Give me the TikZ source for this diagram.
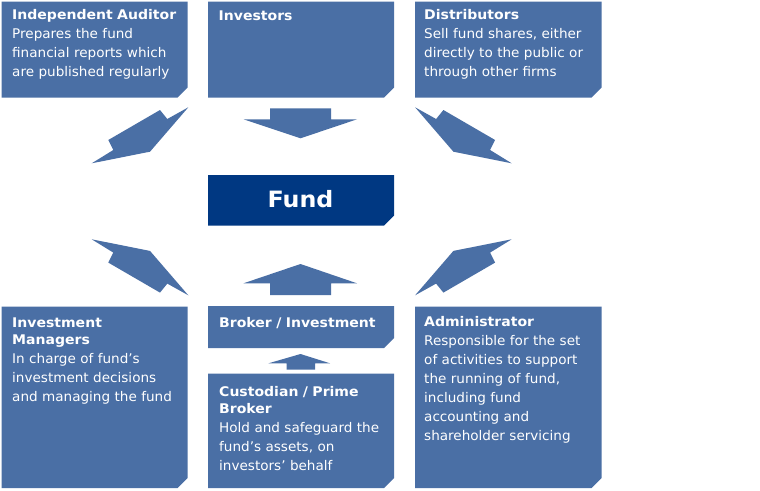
\documentclass[tikz,border=0pt]{standalone}
\usepackage{fontspec}
\setmainfont{DejaVu Sans}[FakeStretch=1.02,BoldFeatures={FakeStretch=1.055}]
\definecolor{boxblue}{RGB}{74,111,165}
\definecolor{fundblue}{RGB}{0,56,130}
\newcommand\chbox[5][boxblue]{\fill[#1] (#2,#3) -- (#4,#3) -- (#4,#5-10) -- (#4-10,#5) -- (#2,#5) -- cycle;}
\begin{document}
\begin{tikzpicture}[x=1pt,y=-1pt,
  lbl/.style={anchor=base west, inner sep=0pt, text=white, align=left, text width=185pt,
    font=\fontsize{13.3}{19}\selectfont},
  fundlbl/.style={anchor=base, inner sep=0pt, text=white, font=\fontsize{22.5}{26}\selectfont\bfseries},
  arr/.style={fill=boxblue}]
\useasboundingbox (0,0) rectangle (760,490);
\fill[white] (0,0) rectangle (760,490);
% boxes
\chbox{1.5}{1.5}{187.5}{97.5}
\chbox{208}{1.5}{394}{97.5}
\chbox{415}{1.5}{601.5}{97.5}
\chbox[fundblue]{208}{175}{394}{225.5}
\chbox{1.5}{306.5}{187.5}{488}
\chbox{208}{306}{394}{348}
\chbox{208}{373.5}{394}{488}
\chbox{415}{306.5}{601.5}{488}
% labels
\node[lbl] (aud) at (12,19.5) {\textbf{Independent Auditor}\\Prepares the fund\\financial reports which\\are published regularly};
\node[lbl] (inv) at (218.5,20) {\textbf{Investors}};
\node[lbl] (dis) at (424,19.5) {\textbf{Distributors}\\Sell fund shares, either\\directly to the public or\\through other firms};
\node[fundlbl] (fund) at (300.5,207.3) {Fund};
\node[lbl] (mgr) at (12,327.3) {\textbf{Investment}\\[-2pt]\textbf{Managers}\\In charge of fund’s\\investment decisions\\and managing the fund};
\node[lbl] (brk) at (219,327.3) {\textbf{Broker / Investment}};
\node[lbl] (cus) at (219,396.7) {\textbf{Custodian / Prime}\\[-2pt]\textbf{Broker}\\Hold and safeguard the\\fund’s assets, on\\investors’ behalf};
\node[lbl] (adm) at (424,326.7) {\textbf{Administrator}\\Responsible for the set\\of activities to support\\the running of fund,\\including fund\\accounting and\\shareholder servicing};
% vertical arrows
\fill[arr] (270,108.3) -- (331,108.3) -- (331,119.3) -- (357,119.3) -- (300.5,138.3) -- (243.5,119.3) -- (270,119.3) -- cycle;
\fill[arr] (300.5,264) -- (357,283.3) -- (331,283.3) -- (331,295) -- (270,295) -- (270,283.3) -- (243.5,283.3) -- cycle;
\fill[arr] (300.5,354) -- (330,363.3) -- (315,363.3) -- (315,369.5) -- (286.5,369.5) -- (286.5,363.3) -- (268.5,363.3) -- cycle;
% diagonal arrows
\fill[arr] (188.3,107.3) -- (150,151.7) -- (91.7,163.3) -- (113.3,150) -- (108.3,140) -- (160,110) -- (167.3,119) -- cycle;
\fill[arr] (415.1,107.3) -- (453.4,151.7) -- (511.7,163.3) -- (490.1,150) -- (495.1,140) -- (443.4,110) -- (436.1,119) -- cycle;
\fill[arr] (188.3,295.3) -- (150,250.9) -- (91.7,239.3) -- (113.3,252.6) -- (108.3,262.6) -- (160,292.6) -- (167.3,283.6) -- cycle;
\fill[arr] (415.1,295.3) -- (453.4,250.9) -- (511.7,239.3) -- (490.1,252.6) -- (495.1,262.6) -- (443.4,292.6) -- (436.1,283.6) -- cycle;
\end{tikzpicture}
\end{document}
